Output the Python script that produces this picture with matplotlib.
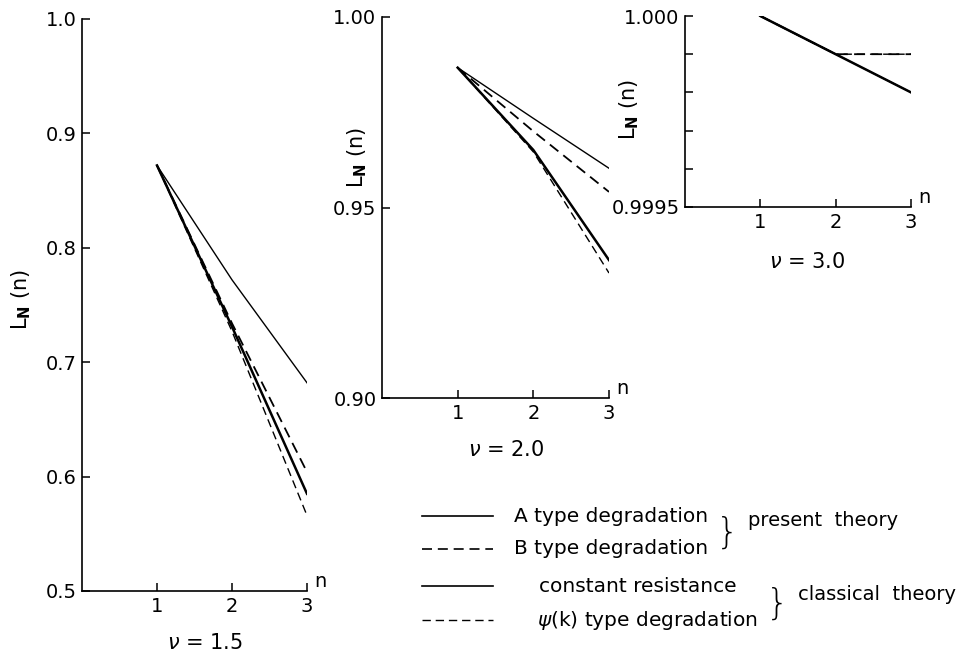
import matplotlib
matplotlib.use("Agg")
import matplotlib.pyplot as plt

plt.rcParams['font.family'] = ['DejaVu Sans']
plt.rcParams['mathtext.fontset'] = 'dejavusans'

# ---------------- data ----------------
n = [1, 2, 3]

# nu = 1.5
const_15 = [0.872, 0.772, 0.682]
a_15 = [0.872, 0.731, 0.585]
b_15 = [0.872, 0.734, 0.604]
psi_15 = [0.872, 0.727, 0.566]

# nu = 2.0
const_20 = [0.9867, 0.9734, 0.9603]
a_20 = [0.9867, 0.9651, 0.9362]
b_20 = [0.9867, 0.9700, 0.9541]
psi_20 = [0.9867, 0.9646, 0.9328]

# nu = 3.0
const_30 = [1.0000, 0.9999, 0.9998]
a_30 = [1.0000, 0.9999, 0.9998]
b_30 = [1.0000, 0.9999, 0.9999]
psi_30 = [1.0000, 0.9999, 0.9999]

yticks_15 = [0.5, 0.6, 0.7, 0.8, 0.9, 1.0]
ylabels_15 = ["0.5", "0.6", "0.7", "0.8", "0.9", "1.0"]
yticks_20 = [0.90, 0.95, 1.00]
ylabels_20 = ["0.90", "0.95", "1.00"]
yticks_30 = [0.9995, 0.9996, 0.9997, 0.9998, 0.9999, 1.0000]
ylabels_30 = ["0.9995", "", "", "", "", "1.000"]
xticks = [1, 2, 3]
xlabels = ["1", "2", "3"]

legend_labels = ["A type degradation", "B type degradation",
                 "constant resistance", r"$\psi$(k) type degradation"]
group_labels = ["present  theory", "classical  theory"]
nu_labels = [r"$\nu$ = 1.5", r"$\nu$ = 2.0", r"$\nu$ = 3.0"]

W, H = 965, 654
fig = plt.figure(figsize=(W / 100, H / 100), dpi=100)


def px_rect(l, t, r, b):
    return [l / W, 1 - b / H, (r - l) / W, (b - t) / H]


FS = 14
dash = (0, (6, 3.5))


def style_ax(ax, ylim, yt, yl, ylab_xy):
    ax.set_xlim(0, 3)
    ax.set_ylim(*ylim)
    for s in ("top", "right"):
        ax.spines[s].set_visible(False)
    for s in ("left", "bottom"):
        ax.spines[s].set_linewidth(1.2)
    ax.set_yticks(yt)
    ax.set_yticklabels(yl, fontsize=FS)
    ax.set_xticks(xticks)
    ax.set_xticklabels(xlabels, fontsize=FS)
    ax.tick_params(direction="in", length=6, width=1.1, pad=4)
    ax.text(1.03, 0.0, "n", transform=ax.transAxes, fontsize=FS,
            ha="left", va="bottom")
    ax.text(ylab_xy[0], ylab_xy[1], r"L$_\mathbf{N}$ (n)", transform=ax.transAxes,
            rotation=90, fontsize=15, ha="center", va="center")


def draw(ax, c, a, b, p):
    ax.plot(n, c, color="black", lw=1.0)
    ax.plot(n, a, color="black", lw=1.8)
    ax.plot(n, b, color="black", lw=1.3, ls=dash)
    ax.plot(n, p, color="black", lw=1.0, ls=dash)


ax1 = fig.add_axes(px_rect(82, 19, 307, 591))
draw(ax1, const_15, a_15, b_15, psi_15)
style_ax(ax1, (0.5, 1.0), yticks_15, ylabels_15, (-0.27, 0.51))

ax2 = fig.add_axes(px_rect(382, 17, 609, 398))
draw(ax2, const_20, a_20, b_20, psi_20)
style_ax(ax2, (0.90, 1.00), yticks_20, ylabels_20, (-0.11, 0.63))

ax3 = fig.add_axes(px_rect(685, 16, 911, 207))
draw(ax3, const_30, a_30, b_30, psi_30)
style_ax(ax3, (0.9995, 1.0000), yticks_30, ylabels_30, (-0.245, 0.51))

# nu labels
for (x, y), lab in zip([(205, 643), (506, 450), (807, 262)], nu_labels):
    fig.text(x / W, 1 - y / H, lab, fontsize=15, ha="center", va="center")

# legend
rows_y = [516, 549, 586, 620]
styles = [dict(lw=1.2, ls="-"), dict(lw=1.2, ls=(0, (6, 3.5))),
          dict(lw=1.2, ls="-"), dict(lw=1.0, ls=(0, (6, 3.5)))]
text_x = [514, 514, 539, 537]
for y, st, lab, tx in zip(rows_y, styles, legend_labels, text_x):
    fig.add_artist(plt.Line2D([422 / W, 493 / W], [1 - y / H, 1 - y / H],
                              color="black", **st))
    fig.text(tx / W, 1 - y / H, lab, fontsize=14.5, ha="left", va="center")

fig.text(727 / W, 1 - 533 / H, "}", fontsize=26, fontweight="light",
         ha="center", va="center")
fig.text(748 / W, 1 - 520 / H, group_labels[0], fontsize=FS, ha="left", va="center")
fig.text(777 / W, 1 - 604 / H, "}", fontsize=26, fontweight="light",
         ha="center", va="center")
fig.text(798 / W, 1 - 595 / H, group_labels[1], fontsize=FS, ha="left", va="center")

fig.savefig("out.png", dpi=100, facecolor="white")
